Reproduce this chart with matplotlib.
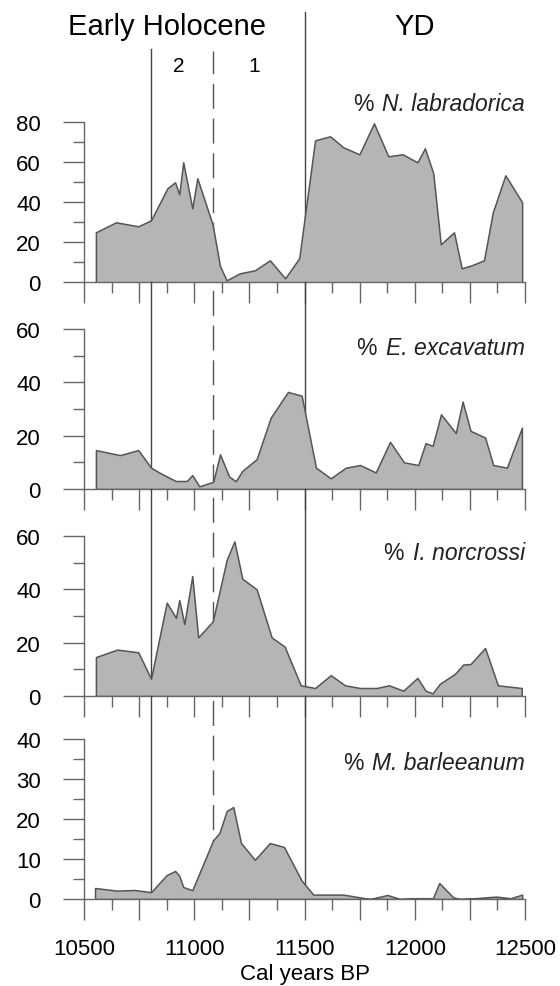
import matplotlib
matplotlib.use("Agg")
import matplotlib.pyplot as plt
from matplotlib.ticker import MultipleLocator, FuncFormatter

plt.rcParams['font.family'] = ['Liberation Sans', 'DejaVu Sans']

# datos (edad cal BP, %)
yr_nl = [10554, 10645, 10746, 10804, 10878, 10913, 10932, 10950, 10991, 11014, 11083, 11117,
         11147, 11207, 11275, 11343, 11412, 11476, 11548, 11616, 11676, 11749, 11815, 11880,
         11945, 12012, 12046, 12084, 12118, 12178, 12213, 12258, 12314, 12354, 12411, 12487]
nl = [25, 30, 28, 31, 47, 50, 44, 60, 37, 52, 29, 8, 1, 4.5, 6, 11, 2, 12, 71, 73, 67.5, 64,
      79.5, 63, 64, 60, 67, 54.5, 19, 25, 7, 8.5, 11, 35, 53.5, 40]

yr_ee = [10554, 10663, 10746, 10804, 10845, 10916, 10966, 10991, 11023, 11086, 11117, 11158,
         11188, 11218, 11283, 11347, 11425, 11487, 11552, 11619, 11687, 11752, 11823, 11888,
         11951, 12016, 12049, 12081, 12119, 12186, 12217, 12253, 12319, 12356, 12418, 12486]
ee = [14.6, 12.7, 14.6, 8, 6, 3, 3, 5.2, 1, 2.7, 13, 4.7, 2.9, 6.8, 11.2, 26.8, 36.4, 35, 8, 4,
      8, 9, 6.2, 17.7, 10, 9, 17.2, 16.2, 28, 21, 32.8, 21.8, 19.3, 9, 8, 23]

yr_in = [10554, 10651, 10746, 10804, 10875, 10917, 10932, 10955, 10991, 11018, 11084, 11147,
         11182, 11218, 11283, 11351, 11410, 11483, 11548, 11619, 11684, 11752, 11827, 11883,
         11948, 12012, 12049, 12081, 12114, 12182, 12220, 12253, 12319, 12377, 12485]
inn = [14.6, 17.4, 16.4, 6.5, 35, 29.3, 36, 27, 45, 22, 28, 51, 58, 44, 40, 22, 18.5, 4, 3,
       7.8, 4, 3, 3, 4, 2, 6.8, 2, 1, 4.6, 8.3, 11.8, 12, 18, 4, 3]

yr_mb = [10550, 10648, 10731, 10804, 10875, 10913, 10932, 10950, 10991, 11086, 11114, 11147,
         11177, 11212, 11275, 11343, 11407, 11487, 11540, 11676, 11752, 11797, 11876, 11933,
         12001, 12069, 12081, 12111, 12175, 12205, 12273, 12369, 12435, 12487]
mb = [2.75, 2.1, 2.25, 1.7, 6, 7, 5.8, 3, 2.2, 14.7, 16.5, 22, 23, 14, 9.8, 14, 13, 4.6, 1.1,
      1.1, 0.4, 0, 1, 0, 0.2, 0.2, 0, 4, 0.4, 0, 0.2, 0.6, 0.2, 1.1]

especies = ["N. labradorica", "E. excavatum", "I. norcrossi", "M. barleeanum"]
series = [(yr_nl, nl), (yr_ee, ee), (yr_in, inn), (yr_mb, mb)]
ymax = [80, 60, 60, 40]
ymaj = [20, 20, 20, 10]
label_y = [1.12, 0.885, 0.90, 0.855]

limites = [10804, 11500]
limite_dash = 11085

gris = '#666666'
W, H = 560, 987
fig = plt.figure(figsize=(W / 100, H / 100), dpi=100)

bases = [283.3, 490, 697, 900]
alto = 160
izq, der = 84, 525

axes = []
for i, ((x, y), name) in enumerate(zip(series, especies)):
    ax = fig.add_axes([izq / W, 1 - bases[i] / H, (der - izq) / W, alto / H])
    ax.patch.set_visible(False)
    ax.fill_between(x, y, 0, facecolor='#b5b5b5', edgecolor='#555555', lw=1.1, zorder=3)
    ax.set_xlim(10500, 12500)
    ax.set_ylim(0, ymax[i])

    # lineas verticales de limites (detras del relleno)
    if i == 0:
        tops = {10804: (283.3 - 50) / alto, 11500: (283.3 - 13) / alto, 'd': (283.3 - 52) / alto}
    else:
        t = (bases[i] - bases[i - 1]) / alto
        tops = {10804: t, 11500: t, 'd': t}
    for xv in limites:
        ax.axvline(xv, ymin=0, ymax=tops[xv], color='#444444', lw=1, zorder=1, clip_on=False)
    ax.axvline(limite_dash, ymin=0, ymax=tops['d'], color='#555555', lw=1, dashes=(18, 7),
               zorder=1, clip_on=False)

    for s in ['top', 'right']:
        ax.spines[s].set_visible(False)
    for s in ['left', 'bottom']:
        ax.spines[s].set_color(gris)
        ax.spines[s].set_linewidth(1)
        ax.spines[s].set_zorder(4)

    ax.yaxis.set_major_locator(MultipleLocator(ymaj[i]))
    ax.yaxis.set_minor_locator(MultipleLocator(ymaj[i] / 2))
    ax.xaxis.set_major_locator(MultipleLocator(250))
    ax.xaxis.set_minor_locator(MultipleLocator(125))
    ax.tick_params(which='major', length=15, width=1, color=gris, direction='out', labelsize=16)
    ax.tick_params(which='minor', length=8, width=1, color=gris, direction='out')
    ax.tick_params(axis='y', which='major', pad=16)
    ax.tick_params(axis='x', which='major', pad=13)

    if i == 3:
        ax.xaxis.set_major_formatter(FuncFormatter(lambda v, p: f"{int(v)}" if v % 500 == 0 else ""))
        ax.set_xlabel("Cal years BP", fontsize=16, labelpad=3)
    else:
        ax.set_xticklabels([])

    t_name = ax.text(1.0, label_y[i], name, transform=ax.transAxes, ha='right', va='center',
                     fontsize=16.5, fontstyle='italic', color='#222222', clip_on=False)
    ax.annotate("%", xy=(0, 0.5), xycoords=t_name, xytext=(-6.5, 0), textcoords='offset points',
                ha='right', va='center', fontsize=16.5, color='#222222')
    axes.append(ax)

fig.text(167 / W, 1 - 27 / H, "Early Holocene", ha='center', va='center', fontsize=21)
fig.text(415 / W, 1 - 27 / H, "YD", ha='center', va='center', fontsize=21)
fig.text(179 / W, 1 - 66 / H, "2", ha='center', va='center', fontsize=15)
fig.text(254 / W, 1 - 66 / H, "1", ha='center', va='center', fontsize=15)

fig.savefig("out.png", dpi=100)
